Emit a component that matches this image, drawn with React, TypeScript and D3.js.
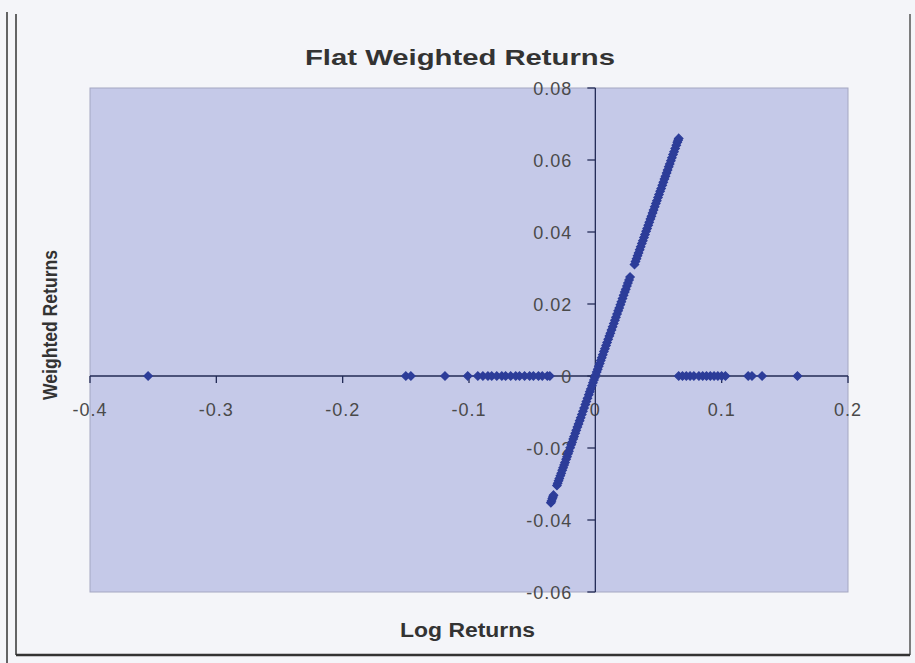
import React from "react";
import * as d3 from "d3";

const TITLE = "Flat Weighted Returns";
const X_LABEL = "Log Returns";
const Y_LABEL = "Weighted Returns";

const xTicks = [-0.4, -0.3, -0.2, -0.1, 0, 0.1, 0.2];
const xTickLabels = ["-0.4", "-0.3", "-0.2", "-0.1", "0", "0.1", "0.2"];
const yTicks = [0.08, 0.06, 0.04, 0.02, 0, -0.02, -0.04, -0.06];
const yTickLabels = ["0.08", "0.06", "0.04", "0.02", "0", "-0.02", "-0.04", "-0.06"];

// Points on the diagonal (weighted return equals log return)
const bandLog = [
  -0.0352, -0.0347, -0.0341, -0.0336, -0.0331, -0.0304, -0.0298, -0.0291, -0.0285, -0.0277,
  -0.0270, -0.0262, -0.0255, -0.0247, -0.0240, -0.0231, -0.0224, -0.0216, -0.0209, -0.0199,
  -0.0191, -0.0184, -0.0175, -0.0168, -0.0159, -0.0151, -0.0142, -0.0133, -0.0124, -0.0116,
  -0.0107, -0.0098, -0.0089, -0.0079, -0.0071, -0.0062, -0.0052, -0.0044, -0.0036, -0.0027,
  -0.0019, -0.0011, -0.0004, 0.0003, 0.0011, 0.0019, 0.0027, 0.0035, 0.0043, 0.0051,
  0.0059, 0.0068, 0.0076, 0.0085, 0.0093, 0.0102, 0.0111, 0.0119, 0.0128, 0.0137,
  0.0146, 0.0155, 0.0163, 0.0172, 0.0181, 0.0189, 0.0198, 0.0206, 0.0215, 0.0224,
  0.0233, 0.0241, 0.0250, 0.0258, 0.0267, 0.0275, 0.0310, 0.0318, 0.0326, 0.0334,
  0.0342, 0.0351, 0.0359, 0.0368, 0.0376, 0.0385, 0.0393, 0.0402, 0.0410, 0.0419,
  0.0427, 0.0436, 0.0444, 0.0453, 0.0461, 0.0470, 0.0479, 0.0487, 0.0496, 0.0504,
  0.0513, 0.0521, 0.0530, 0.0538, 0.0547, 0.0555, 0.0564, 0.0572, 0.0581, 0.0589,
  0.0598, 0.0606, 0.0615, 0.0623, 0.0632, 0.0641, 0.0649, 0.0655, 0.0660
];
const bandWeighted = [
  -0.0352, -0.0347, -0.0341, -0.0336, -0.0331, -0.0304, -0.0298, -0.0291, -0.0285, -0.0277,
  -0.0270, -0.0262, -0.0255, -0.0247, -0.0240, -0.0231, -0.0224, -0.0216, -0.0209, -0.0199,
  -0.0191, -0.0184, -0.0175, -0.0168, -0.0159, -0.0151, -0.0142, -0.0133, -0.0124, -0.0116,
  -0.0107, -0.0098, -0.0089, -0.0079, -0.0071, -0.0062, -0.0052, -0.0044, -0.0036, -0.0027,
  -0.0019, -0.0011, -0.0004, 0.0003, 0.0011, 0.0019, 0.0027, 0.0035, 0.0043, 0.0051,
  0.0059, 0.0068, 0.0076, 0.0085, 0.0093, 0.0102, 0.0111, 0.0119, 0.0128, 0.0137,
  0.0146, 0.0155, 0.0163, 0.0172, 0.0181, 0.0189, 0.0198, 0.0206, 0.0215, 0.0224,
  0.0233, 0.0241, 0.0250, 0.0258, 0.0267, 0.0275, 0.0310, 0.0318, 0.0326, 0.0334,
  0.0342, 0.0351, 0.0359, 0.0368, 0.0376, 0.0385, 0.0393, 0.0402, 0.0410, 0.0419,
  0.0427, 0.0436, 0.0444, 0.0453, 0.0461, 0.0470, 0.0479, 0.0487, 0.0496, 0.0504,
  0.0513, 0.0521, 0.0530, 0.0538, 0.0547, 0.0555, 0.0564, 0.0572, 0.0581, 0.0589,
  0.0598, 0.0606, 0.0615, 0.0623, 0.0632, 0.0641, 0.0649, 0.0655, 0.0660
];

// Points outside the band (weighted return is zero)
const flatLog = [
  -0.354, -0.150, -0.146, -0.119, -0.101, -0.093, -0.089, -0.085, -0.082, -0.078,
  -0.074, -0.071, -0.067, -0.063, -0.060, -0.056, -0.052, -0.049, -0.045, -0.042,
  -0.038, -0.036, 0.066, 0.069, 0.072, 0.075, 0.078, 0.082, 0.085, 0.088,
  0.091, 0.094, 0.097, 0.100, 0.103, 0.121, 0.124, 0.132, 0.160
];
const flatWeighted = [
  0, 0, 0, 0, 0, 0, 0, 0, 0, 0,
  0, 0, 0, 0, 0, 0, 0, 0, 0, 0,
  0, 0, 0, 0, 0, 0, 0, 0, 0, 0,
  0, 0, 0, 0, 0, 0, 0, 0, 0
];

const W = 915;
const H = 663;
const plot = { left: 90, right: 848, top: 88, bottom: 592 };
const FONT = "'Liberation Sans', Arial, sans-serif";

export default function App() {
  const x = d3.scaleLinear().domain([-0.4, 0.2]).range([plot.left, plot.right]);
  const y = d3.scaleLinear().domain([-0.06, 0.08]).range([plot.bottom, plot.top]);
  const x0 = x(0);
  const y0 = y(0);
  const r = 4.2;
  const diamond = `M0,${-r}L${r},0L0,${r}L${-r},0Z`;

  const pts: [number, number][] = [];
  bandLog.forEach((v, i) => pts.push([v, bandWeighted[i]]));
  flatLog.forEach((v, i) => pts.push([v, flatWeighted[i]]));

  const markColor = "#2d3d99";
  const axisColor = "#222a55";
  const textColor = "#4a4a4a";

  return (
    <svg
      width={W}
      height={H}
      style={{ position: "absolute", left: 0, top: 0, background: "#f4f5f9" }}
    >
      <rect x={0} y={0} width={W} height={H} fill="#f4f5f9" />
      {/* frame */}
      <line x1={7} y1={12} x2={7} y2={663} stroke="#333" strokeWidth={1.5} />
      <line x1={16} y1={14} x2={16} y2={655} stroke="#333" strokeWidth={1.5} />
      <line x1={910} y1={14} x2={910} y2={655} stroke="#555" strokeWidth={1.5} />
      <line x1={16} y1={655} x2={910} y2={655} stroke="#333" strokeWidth={2.5} />

      {/* plot area */}
      <rect
        x={plot.left}
        y={plot.top}
        width={plot.right - plot.left}
        height={plot.bottom - plot.top}
        fill="#c5c9e8"
        stroke="#a4a7c2"
        strokeWidth={1}
      />

      {/* title */}
      <text
        x={305}
        y={65}
        textLength={310}
        lengthAdjust="spacingAndGlyphs"
        fontFamily={FONT}
        fontWeight="bold"
        fontSize={22}
        fill="#333"
      >
        {TITLE}
      </text>

      {/* x axis */}
      <line x1={plot.left} y1={y0} x2={plot.right} y2={y0} stroke={axisColor} strokeWidth={1.3} />
      {xTicks.map((t, i) => (
        <g key={"xt" + i}>
          <line x1={x(t)} y1={y0} x2={x(t)} y2={y0 + 7} stroke={axisColor} strokeWidth={1.3} />
          <text
            x={x(t)}
            y={y0 + 40}
            textAnchor="middle"
            fontFamily={FONT}
            fontSize={18}
            letterSpacing={1}
            fill={textColor}
          >
            {xTickLabels[i]}
          </text>
        </g>
      ))}

      {/* y axis */}
      <line x1={x0} y1={plot.top} x2={x0} y2={plot.bottom} stroke={axisColor} strokeWidth={1.3} />
      {yTicks.map((t, i) => (
        <g key={"yt" + i}>
          <line x1={x0 - 8} y1={y(t)} x2={x0} y2={y(t)} stroke={axisColor} strokeWidth={1.3} />
          <text
            x={x0 - 23}
            y={y(t) + 7}
            textAnchor="end"
            fontFamily={FONT}
            fontSize={18}
            letterSpacing={1}
            fill={textColor}
          >
            {yTickLabels[i]}
          </text>
        </g>
      ))}

      {/* points */}
      {pts.map((p, i) => (
        <path
          key={"p" + i}
          d={diamond}
          transform={`translate(${x(p[0])},${y(p[1])})`}
          fill={markColor}
          stroke={markColor}
          strokeWidth={1.2}
        />
      ))}

      {/* axis titles */}
      <text
        x={400}
        y={637}
        textLength={135}
        lengthAdjust="spacingAndGlyphs"
        fontFamily={FONT}
        fontWeight="bold"
        fontSize={20}
        fill="#333"
      >
        {X_LABEL}
      </text>
      <text
        transform={`translate(57,400) rotate(-90)`}
        textLength={150}
        lengthAdjust="spacingAndGlyphs"
        fontFamily={FONT}
        fontWeight="bold"
        fontSize={20}
        fill="#333"
      >
        {Y_LABEL}
      </text>
    </svg>
  );
}
